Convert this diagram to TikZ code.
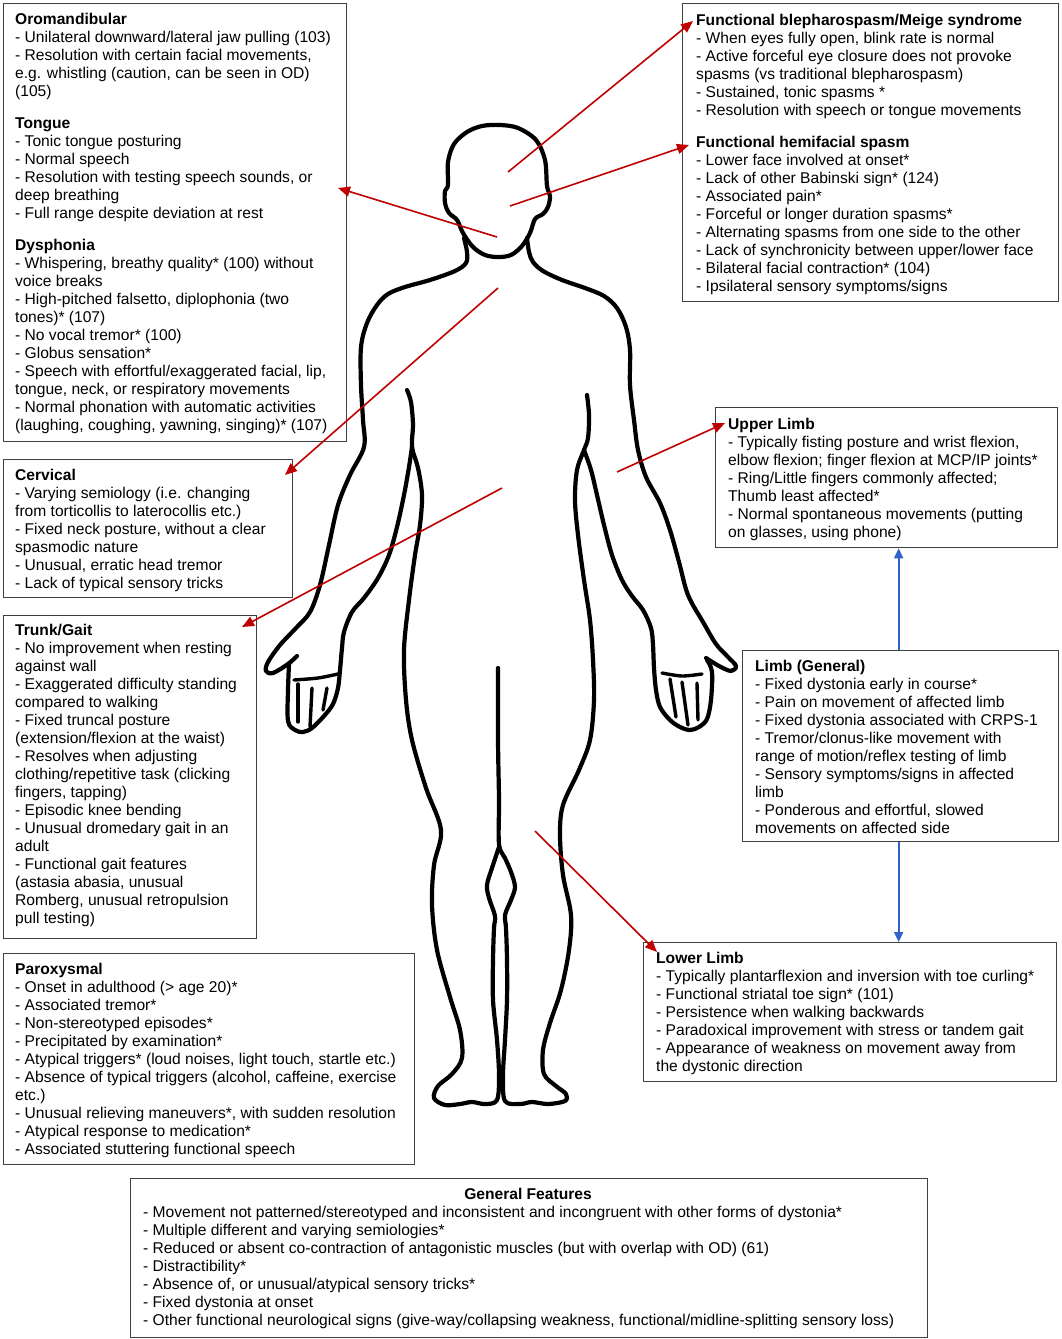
\documentclass[tikz,border=0pt]{standalone}
\usepackage{fontspec}
\setmainfont{Liberation Sans}
\usetikzlibrary{arrows.meta}
\definecolor{arrred}{HTML}{C00000}
\definecolor{arrblue}{HTML}{3063C9}
\definecolor{boxgray}{HTML}{404040}
\newcommand\fs{\rule{0pt}{13pt}}
\begin{document}
\begin{tikzpicture}[x=1pt,y=-1pt,
  box/.style={draw=boxgray, line width=1.3pt, anchor=north west, inner sep=0pt, fill=none},
  txt/.style={anchor=north west, inner sep=0pt, align=left, font=\fontsize{15.6}{18}\selectfont},
  body/.style={line width=4.2pt, line cap=round, line join=round},
  finger/.style={line width=3.4pt, line cap=round},
  redarrow/.style={draw=arrred, line width=1.6pt, -{Triangle[length=12pt,width=10pt]}},
  bluearrow/.style={draw=arrblue, line width=1.8pt, -{Triangle[length=10pt,width=9pt]}}
]
\useasboundingbox (0,0) rectangle (1061,1339);
\fill[white] (0,0) rectangle (1061,1339);

% ---------- boxes ----------
\node[box, minimum width=343pt, minimum height=438pt] (oro) at (3,3) {};
\node[box, minimum width=289pt, minimum height=138pt] (cerv) at (3,459) {};
\node[box, minimum width=253pt, minimum height=323pt] (trunk) at (3,615) {};
\node[box, minimum width=411pt, minimum height=211pt] (parox) at (3,953) {};
\node[box, minimum width=797pt, minimum height=159pt] (gen) at (130,1178) {};
\node[box, minimum width=376pt, minimum height=298pt] (face) at (682,3) {};
\node[box, minimum width=342pt, minimum height=140pt] (ul) at (715,407) {};
\node[box, minimum width=316pt, minimum height=191pt] (lg) at (742,650) {};
\node[box, minimum width=413pt, minimum height=139pt] (ll) at (643,942) {};

% ---------- texts ----------
\node[txt] (oroT) at (15,11) {\fs\textbf{Oromandibular}\\
- Unilateral downward/lateral jaw pulling (103)\\
- Resolution with certain facial movements,\\
e.g. whistling (caution, can be seen in OD)\\
(105)\\[14pt]
\textbf{Tongue}\\
- Tonic tongue posturing\\
- Normal speech\\
- Resolution with testing speech sounds, or\\
deep breathing\\
- Full range despite deviation at rest\\[14pt]
\textbf{Dysphonia}\\
- Whispering, breathy quality* (100) without\\
voice breaks\\
- High-pitched falsetto, diplophonia (two\\
tones)* (107)\\
- No vocal tremor* (100)\\
- Globus sensation*\\
- Speech with effortful/exaggerated facial, lip,\\
tongue, neck, or respiratory movements\\
- Normal phonation with automatic activities\\
(laughing, coughing, yawning, singing)* (107)};

\node[txt] (cervT) at (15,467) {\fs\textbf{Cervical}\\
- Varying semiology (i.e. changing\\
from torticollis to laterocollis etc.)\\
- Fixed neck posture, without a clear\\
spasmodic nature\\
- Unusual, erratic head tremor\\
- Lack of typical sensory tricks};

\node[txt] (trunkT) at (15,622) {\fs\textbf{Trunk/Gait}\\
- No improvement when resting\\
against wall\\
- Exaggerated difficulty standing\\
compared to walking\\
- Fixed truncal posture\\
(extension/flexion at the waist)\\
- Resolves when adjusting\\
clothing/repetitive task (clicking\\
fingers, tapping)\\
- Episodic knee bending\\
- Unusual dromedary gait in an\\
adult\\
- Functional gait features\\
(astasia abasia, unusual\\
Romberg, unusual retropulsion\\
pull testing)};

\node[txt] (paroxT) at (15,961) {\fs\textbf{Paroxysmal}\\
- Onset in adulthood (> age 20)*\\
- Associated tremor*\\
- Non-stereotyped episodes*\\
- Precipitated by examination*\\
- Atypical triggers* (loud noises, light touch, startle etc.)\\
- Absence of typical triggers (alcohol, caffeine, exercise\\
etc.)\\
- Unusual relieving maneuvers*, with sudden resolution\\
- Atypical response to medication*\\
- Associated stuttering functional speech};

\node[txt, anchor=base] (genH) at (528,1199) {\textbf{General Features}};
\node[txt] (genT) at (143,1204) {\fs- Movement not patterned/stereotyped and inconsistent and incongruent with other forms of dystonia*\\
- Multiple different and varying semiologies*\\
- Reduced or absent co-contraction of antagonistic muscles (but with overlap with OD) (61)\\
- Distractibility*\\
- Absence of, or unusual/atypical sensory tricks*\\
- Fixed dystonia at onset\\
- Other functional neurological signs (give-way/collapsing weakness, functional/midline-splitting sensory loss)};

\node[txt] (faceT) at (696,12) {\fs\textbf{Functional blepharospasm/Meige syndrome}\\
- When eyes fully open, blink rate is normal\\
- Active forceful eye closure does not provoke\\
spasms (vs traditional blepharospasm)\\
- Sustained, tonic spasms *\\
- Resolution with speech or tongue movements\\[14pt]
\textbf{Functional hemifacial spasm}\\
- Lower face involved at onset*\\
- Lack of other Babinski sign* (124)\\
- Associated pain*\\
- Forceful or longer duration spasms*\\
- Alternating spasms from one side to the other\\
- Lack of synchronicity between upper/lower face\\
- Bilateral facial contraction* (104)\\
- Ipsilateral sensory symptoms/signs};

\node[txt] (ulT) at (728,416) {\fs\textbf{Upper Limb}\\
- Typically fisting posture and wrist flexion,\\
elbow flexion; finger flexion at MCP/IP joints*\\
- Ring/Little fingers commonly affected;\\
Thumb least affected*\\
- Normal spontaneous movements (putting\\
on glasses, using phone)};

\node[txt] (lgT) at (755,658) {\fs\textbf{Limb (General)}\\
- Fixed dystonia early in course*\\
- Pain on movement of affected limb\\
- Fixed dystonia associated with CRPS-1\\
- Tremor/clonus-like movement with\\
range of motion/reflex testing of limb\\
- Sensory symptoms/signs in affected\\
limb\\
- Ponderous and effortful, slowed\\
movements on affected side};

\node[txt] (llT) at (656,950) {\fs\textbf{Lower Limb}\\
- Typically plantarflexion and inversion with toe curling*\\
- Functional striatal toe sign* (101)\\
- Persistence when walking backwards\\
- Paradoxical improvement with stress or tandem gait\\
- Appearance of weakness on movement away from\\
the dystonic direction};

% ---------- body ----------
% head
\draw[body] plot[smooth cycle, tension=0.55] coordinates {(500,125) (518,128) (536,140) (545,160) (547,186) (550,196) (548,207) (543,214) (535,219) (530,233) (522,246) (511,255) (498,257) (485,255) (473,247) (463,233) (457,220) (449,213) (445,203) (445,191) (448,185) (448,162) (454,144) (467,132) (482,126)};
% left neck, shoulder, outer arm, thumb
\draw[body] plot[smooth, tension=0.55] coordinates {(464,238) (467,252) (466,263) (455,271) (430,280) (405,287) (388,294) (377,305) (367,323) (361,347) (361,385) (363,420) (364,447) (350,475) (338,505) (329,545) (320,585) (310,612) (296,628) (280,645) (268,662) (266,671) (273,673) (288,664) (297,656)};
% left palm and inner arm
\draw[body] plot[smooth, tension=0.55] coordinates {(289,664) (288,690) (288,721) (295,730) (303,732) (312,728) (324,716) (333,704) (338,688) (340,670) (342,648) (344,632) (352,612) (364,598) (378,578) (389,555) (397,527) (404,495) (409,467) (412,447)};
% left fingers
\draw[finger] plot[smooth] coordinates {(294,680) (318,678) (338,674)};
\draw[finger] (298,684) -- (298,722);
\draw[finger] (312,688) -- (310,727);
\draw[finger] (327,688) -- (323,710);
% left armpit, torso, leg, foot, inner leg
\draw[body] plot[smooth, tension=0.55] coordinates {(407,390) (411,402) (413,425) (412,447) (418,468) (422,495) (420,525) (415,555) (409,600) (404,650) (406,700) (412,740) (426,788) (441,830) (434,865) (432,905) (437,950) (450,997) (460,1030) (462,1058) (452,1074) (438,1086) (434,1098) (445,1105) (460,1104) (472,1102) (485,1104) (497,1100) (499,1075) (497,1040) (493,1000) (493,960) (494,928) (495,916) (489,898) (487,885) (492,868) (499,847)};
% right neck, shoulder, outer arm, thumb
\draw[body] plot[smooth, tension=0.55] coordinates {(527,238) (529,252) (533,262) (543,271) (562,280) (585,288) (604,296) (617,308) (626,327) (630,350) (630,385) (634,420) (638,450) (646,477) (660,503) (670,530) (679,562) (688,595) (703,622) (716,644) (728,657) (736,666) (731,671) (719,666) (706,658)};
% right palm and inner arm
\draw[body] plot[smooth, tension=0.55] coordinates {(707,660) (712,672) (711,700) (707,719) (699,727) (690,730) (680,727) (670,720) (660,707) (656,690) (654,668) (653,645) (651,628) (643,610) (632,596) (622,580) (612,555) (604,525) (597,495) (591,470) (584,450)};
% right fingers
\draw[finger] plot[smooth] coordinates {(662,673) (682,676) (702,674)};
\draw[finger] (670,679) -- (676,717);
\draw[finger] (682,682) -- (688,725);
\draw[finger] (697,683) -- (698,720);
% right armpit, torso, leg, foot, inner leg, crotch line
\draw[body] plot[smooth, tension=0.55] coordinates {(587,395) (589,415) (588,438) (584,450) (577,470) (575,500) (578,535) (584,580) (590,620) (593,660) (594,700) (590,740) (579,770) (563,805) (560,835) (563,875) (571,915) (569,950) (561,990) (550,1023) (543,1050) (544,1074) (556,1086) (566,1094) (565,1101) (548,1104) (532,1102) (520,1104) (505,1101) (503,1075) (505,1040) (507,1000) (507,960) (506,928) (505,915) (511,900) (515,887) (511,872) (505,858) (499,844) (499,800) (498,740) (498,668)};

% ---------- connectors ----------
\coordinate (eyes) at (508,172);
\coordinate (cheek) at (510,206);
\coordinate (jaw) at (497,237);
\coordinate (neck) at (498,288);
\coordinate (trunkpt) at (502,488);
\coordinate (armpt) at (617,472);
\coordinate (legpt) at (535,831);
\coordinate (blephTip) at (693,21);
\coordinate (hemiTip) at (689,145);
\coordinate (tongueTip) at (338,188);
\coordinate (cervTip) at (285,475);
\coordinate (trunkTip) at (242,627);
\coordinate (ulTip) at (725,423);
\coordinate (llTip) at (657,952);
\draw[redarrow] (eyes) -- (blephTip);
\draw[redarrow] (cheek) -- (hemiTip);
\draw[redarrow] (jaw) -- (tongueTip);
\draw[redarrow] (neck) -- (cervTip);
\draw[redarrow] (trunkpt) -- (trunkTip);
\draw[redarrow] (armpt) -- (ulTip);
\draw[redarrow] (legpt) -- (llTip);
\draw[bluearrow] ([xshift=-2pt]lg.north) -- ([xshift=-2pt]lg.north |- ul.south);
\draw[bluearrow] ([xshift=-2pt]lg.south) -- ([xshift=-2pt]lg.south |- ll.north);
\end{tikzpicture}
\end{document}
